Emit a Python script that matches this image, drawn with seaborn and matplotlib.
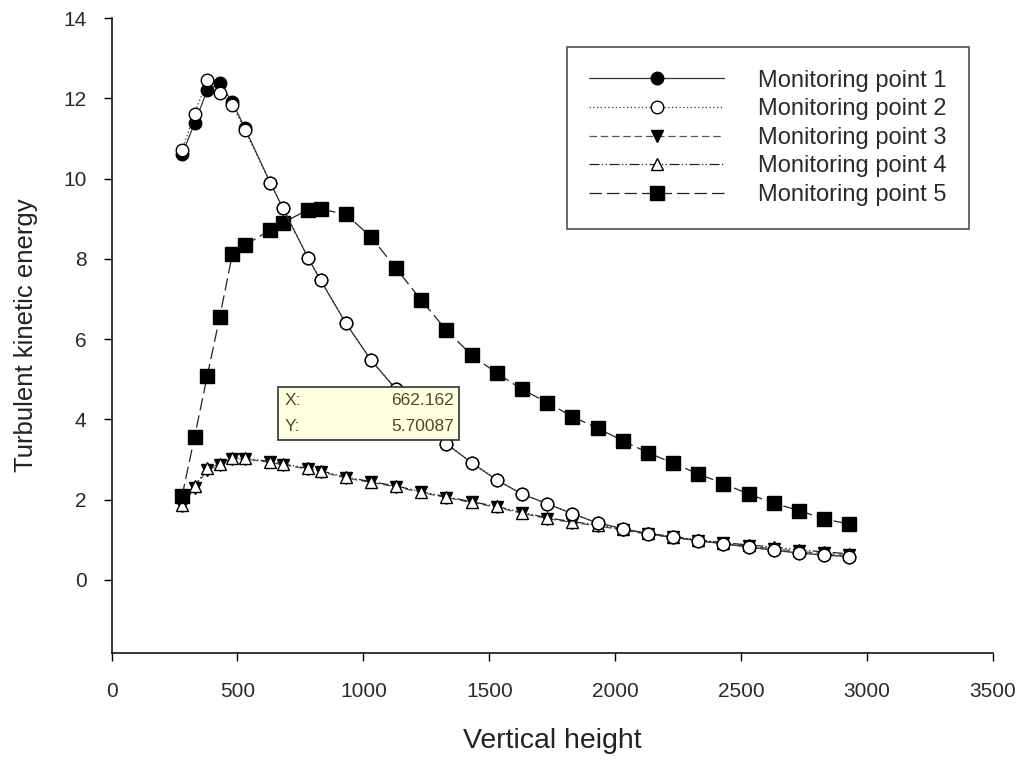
import matplotlib
matplotlib.use("Agg")
import matplotlib.pyplot as plt
from matplotlib.patches import Rectangle
import numpy as np
import pandas as pd
import seaborn as sns

sns.set_theme(style="ticks")
plt.rcParams["font.family"] = ["Liberation Sans", "DejaVu Sans"]

# Vertical height of each sample
height = [280, 330, 380, 430, 480, 530, 630, 680, 780, 830, 930, 1030, 1130, 1230,
          1330, 1430, 1530, 1630, 1730, 1830, 1930, 2030, 2130, 2230, 2330, 2430,
          2530, 2630, 2730, 2830, 2930]

# Turbulent kinetic energy at the five monitoring points
tke_p1 = [10.60, 11.38, 12.20, 12.38, 11.90, 11.25, 9.90, 9.27, 8.03, 7.47, 6.40, 5.48,
          4.75, 4.05, 3.39, 2.92, 2.49, 2.14, 1.90, 1.65, 1.42, 1.28, 1.15, 1.06, 0.98,
          0.90, 0.82, 0.74, 0.67, 0.62, 0.58]
tke_p2 = [10.70, 11.62, 12.45, 12.12, 11.83, 11.20, 9.90, 9.27, 8.03, 7.47, 6.40, 5.48,
          4.75, 4.05, 3.39, 2.92, 2.49, 2.14, 1.90, 1.65, 1.42, 1.28, 1.15, 1.06, 0.98,
          0.90, 0.82, 0.74, 0.67, 0.62, 0.58]
tke_p3 = [1.83, 2.30, 2.74, 2.87, 3.01, 3.01, 2.93, 2.87, 2.76, 2.70, 2.54, 2.43, 2.32,
          2.18, 2.05, 1.93, 1.81, 1.66, 1.53, 1.43, 1.35, 1.24, 1.14, 1.06, 0.98, 0.91,
          0.84, 0.78, 0.71, 0.66, 0.61]
tke_p4 = [1.87, 2.34, 2.78, 2.89, 3.03, 3.03, 2.95, 2.89, 2.78, 2.72, 2.56, 2.45, 2.34,
          2.20, 2.07, 1.95, 1.83, 1.68, 1.55, 1.45, 1.37, 1.26, 1.16, 1.08, 1.00, 0.93,
          0.87, 0.82, 0.75, 0.70, 0.65]
tke_p5 = [2.09, 3.57, 5.08, 6.56, 8.12, 8.34, 8.72, 8.90, 9.22, 9.24, 9.11, 8.55, 7.76,
          6.97, 6.22, 5.60, 5.15, 4.75, 4.42, 4.07, 3.78, 3.47, 3.17, 2.91, 2.64, 2.40,
          2.14, 1.91, 1.73, 1.52, 1.39]

series_names = ["Monitoring point 1", "Monitoring point 2", "Monitoring point 3",
                "Monitoring point 4", "Monitoring point 5"]
series_values = [tke_p1, tke_p2, tke_p3, tke_p4, tke_p5]

df = pd.DataFrame({
    "height": np.tile(height, len(series_names)),
    "tke": np.concatenate(series_values),
    "point": np.repeat(series_names, len(height)),
})

styles = {
    "Monitoring point 1": dict(ls="-", marker="o", mfc="black", ms=9, lc="#333333"),
    "Monitoring point 2": dict(ls=(0, (1, 2)), marker="o", mfc="white", ms=9, lc="#333333"),
    "Monitoring point 3": dict(ls=(0, (6, 3)), marker="v", mfc="black", ms=8.5, lc="#555555"),
    "Monitoring point 4": dict(ls=(0, (8, 2, 1, 2, 1, 2)), marker="^", mfc="white", ms=8.5, lc="#222222"),
    "Monitoring point 5": dict(ls=(0, (10, 4)), marker="s", mfc="black", ms=9.5, lc="#222222"),
}
draw_order = ["Monitoring point 3", "Monitoring point 4", "Monitoring point 5",
              "Monitoring point 1", "Monitoring point 2"]

fig = plt.figure(figsize=(10.26, 7.6), dpi=100)
ax = fig.add_axes([0.1087, 0.1408, 0.8591, 0.8355])

handles = {}
for z, name in enumerate(draw_order):
    st = styles[name]
    sns.lineplot(data=df[df["point"] == name], x="height", y="tke", ax=ax,
                 color=st["lc"], linestyle=st["ls"], linewidth=0.9,
                 marker=st["marker"], markersize=st["ms"], markerfacecolor=st["mfc"],
                 markeredgecolor="black", markeredgewidth=1.0, label=name,
                 zorder=3 + z, legend=False)
    handles[name] = ax.lines[-1]

ax.set_xlim(0, 3500)
ax.set_ylim(-1.82, 14)
ax.set_xticks(np.arange(0, 3501, 500))
ax.set_yticks(np.arange(0, 15, 2))
ax.tick_params(axis="both", direction="out", length=6, width=1, colors="black",
               labelsize=15, labelcolor="#2a2a2a")
ax.tick_params(axis="x", pad=15)
ax.tick_params(axis="y", pad=12)
for side in ("top", "right"):
    ax.spines[side].set_visible(False)
for side in ("left", "bottom"):
    ax.spines[side].set_linewidth(1.1)
    ax.spines[side].set_color("black")

ax.set_xlabel("Vertical height", fontsize=20.5, labelpad=19, color="#222222")
ax.set_ylabel("Turbulent kinetic energy", fontsize=18.5, labelpad=18, color="#222222")

leg = ax.legend([handles[n] for n in series_names], series_names,
                loc="upper left", bbox_to_anchor=(0.5167, 0.954), frameon=True,
                fancybox=False, edgecolor="#222222", fontsize=17, handlelength=5.7,
                handletextpad=1.45, labelspacing=0.28, borderpad=0.95,
                borderaxespad=0)
leg.get_frame().set_linewidth(1.2)
for t in leg.get_texts():
    t.set_color("#2a2a2a")

# Value read-out box
box = Rectangle((662, 3.49), 716, 1.32, facecolor="#ffffe1", edgecolor="#333333",
                linewidth=1.2, zorder=20)
ax.add_patch(box)
ax.text(688, 4.47, "X:", fontsize=12.5, color="#4a4a30", va="center", ha="left", zorder=21)
ax.text(688, 3.82, "Y:", fontsize=12.5, color="#4a4a30", va="center", ha="left", zorder=21)
ax.text(1360, 4.47, "662.162", fontsize=12.5, color="#4a4a30", va="center", ha="right", zorder=21)
ax.text(1360, 3.82, "5.70087", fontsize=12.5, color="#4a4a30", va="center", ha="right", zorder=21)

fig.savefig("out.png", dpi=100)
